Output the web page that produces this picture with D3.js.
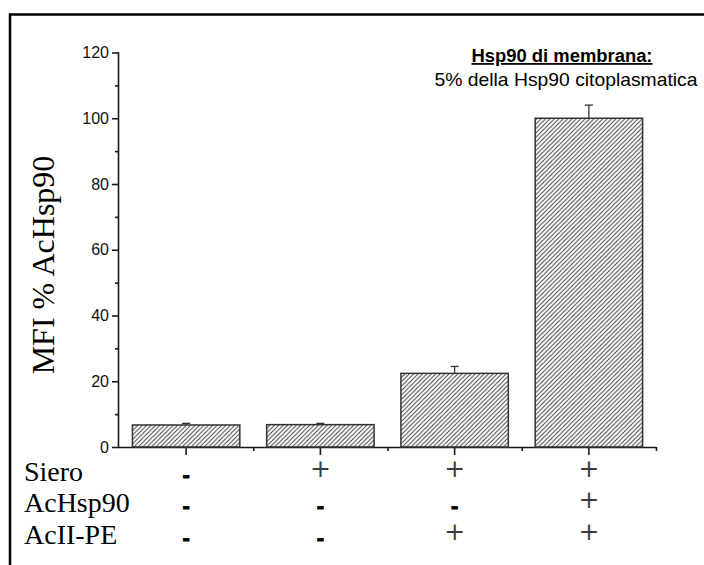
<!DOCTYPE html>
<html>
<head>
<meta charset="utf-8">
<script src="https://cdn.jsdelivr.net/npm/d3@7"></script>
<style>
  body { margin: 0; background: #fff; }
  svg { display: block; }
</style>
</head>
<body>
<svg id="chart" width="704" height="565"></svg>
<script>
// Conditions along the x axis and the measured MFI (% of AcHsp90)
const conditions = ["c1", "c2", "c3", "c4"];
const mfiValues = [6.7, 6.8, 22.4, 100];
const mfiErrors = [0.5, 0.4, 2.1, 4.0];
const yTicks = [0, 20, 40, 60, 80, 100, 120];
const yMinorTicks = [10, 30, 50, 70, 90, 110];

// Treatment table under the axis
const rowLabels = ["Siero", "AcHsp90", "AcII-PE"];
const siero = ["-", "+", "+", "+"];
const acHsp90 = ["-", "-", "-", "+"];
const acIIPE = ["-", "-", "+", "+"];
const tableRows = [siero, acHsp90, acIIPE];

const noteTitle = "Hsp90 di membrana:";
const noteText = "5% della Hsp90 citoplasmatica";

const svg = d3.select("#chart");

// outer frame
svg.append("rect")
  .attr("x", 10).attr("y", 14.5)
  .attr("width", 720).attr("height", 600)
  .attr("fill", "none").attr("stroke", "#000").attr("stroke-width", 2.5);

// hatch pattern for the bars
const defs = svg.append("defs");
const pat = defs.append("pattern")
  .attr("id", "hatch").attr("patternUnits", "userSpaceOnUse")
  .attr("width", 4.4).attr("height", 4.4);
pat.append("path")
  .attr("d", "M-1.1,1.1 L1.1,-1.1 M0,4.4 L4.4,0 M3.3,5.5 L5.5,3.3")
  .attr("stroke", "#333").attr("stroke-width", 0.9);

const x0 = 119, x1 = 656, yBase = 447, yTop = 52.5;

const x = d3.scaleBand().domain(conditions).range([x0, x1])
  .paddingInner(0.2).paddingOuter(0.1);
const xEdge = d3.scaleLinear().domain([0, conditions.length]).range([x0, x1]);
const y = d3.scaleLinear().domain([0, 120]).range([yBase, yTop]);

const axisColor = "#1a1a1a";

// y axis: major ticks with labels, minor ticks without
const gy = svg.append("g").attr("transform", `translate(${x0},0)`)
  .call(d3.axisLeft(y).tickValues(yTicks).tickSize(7).tickPadding(3).tickFormat(d3.format("d")));
const gyMinor = svg.append("g").attr("transform", `translate(${x0},0)`)
  .call(d3.axisLeft(y).tickValues(yMinorTicks).tickSize(4).tickFormat(""));
gyMinor.select(".domain").remove();

// x axis: major ticks at bar centres, minor ticks between bars
const gx = svg.append("g").attr("transform", `translate(0,${yBase})`)
  .call(d3.axisBottom(x).tickSize(8).tickFormat(""));
const gxMinor = svg.append("g").attr("transform", `translate(0,${yBase})`)
  .call(d3.axisBottom(xEdge).tickValues([1, 2, 3, 4]).tickSize(4).tickFormat(""));
gxMinor.select(".domain").remove();
gx.select(".domain").attr("d", `M${x0},0.5H${x1}`);
gy.select(".domain").attr("d", `M-0.5,${yTop}V${yBase}`);

[gy, gyMinor, gx, gxMinor].forEach(g => {
  g.selectAll(".domain, line").attr("stroke", axisColor).attr("stroke-width", 1.6);
});
gy.selectAll("text")
  .attr("font-family", "'Liberation Sans', Arial, sans-serif")
  .attr("font-size", 16).attr("fill", "#111");

// bars
const bars = svg.append("g");
bars.selectAll("rect").data(conditions).join("rect")
  .attr("x", d => x(d))
  .attr("y", (d, i) => y(mfiValues[i]))
  .attr("width", x.bandwidth())
  .attr("height", (d, i) => y(0) - y(mfiValues[i]))
  .attr("fill", "url(#hatch)")
  .attr("stroke", "#333").attr("stroke-width", 1.5);

// error bars (upper whisker only)
const err = svg.append("g").attr("stroke", "#333").attr("stroke-width", 1.3);
conditions.forEach((d, i) => {
  const cx = x(d) + x.bandwidth() / 2;
  err.append("line").attr("x1", cx).attr("x2", cx)
    .attr("y1", y(mfiValues[i])).attr("y2", y(mfiValues[i] + mfiErrors[i]));
  err.append("line").attr("x1", cx - 4).attr("x2", cx + 4)
    .attr("y1", y(mfiValues[i] + mfiErrors[i])).attr("y2", y(mfiValues[i] + mfiErrors[i]));
});

// y axis title
svg.append("text")
  .attr("transform", "translate(54,265) rotate(-90)")
  .attr("text-anchor", "middle")
  .attr("font-family", "'Liberation Serif', 'Times New Roman', serif")
  .attr("font-size", 32).attr("fill", "#000")
  .text("MFI % AcHsp90");

// annotation
svg.append("text")
  .attr("x", 562).attr("y", 62).attr("text-anchor", "middle")
  .attr("font-family", "'Liberation Sans', Arial, sans-serif")
  .attr("font-size", 18).attr("font-weight", "bold")
  .attr("text-decoration", "underline")
  .attr("textLength", 181).attr("lengthAdjust", "spacingAndGlyphs")
  .attr("fill", "#000").text(noteTitle);
svg.append("text")
  .attr("x", 566).attr("y", 86).attr("text-anchor", "middle")
  .attr("font-family", "'Liberation Sans', Arial, sans-serif")
  .attr("font-size", 18.5)
  .attr("textLength", 263).attr("lengthAdjust", "spacingAndGlyphs")
  .attr("fill", "#000").text(noteText);

// treatment table
const rowBaselines = [481, 512, 544];
const table = svg.append("g");
rowLabels.forEach((lab, r) => {
  table.append("text")
    .attr("x", 24).attr("y", rowBaselines[r])
    .attr("font-family", "'Liberation Serif', 'Times New Roman', serif")
    .attr("font-size", 28)
    .attr("fill", "#000").text(lab);
  tableRows[r].forEach((sym, i) => {
    const cx = x(conditions[i]) + x.bandwidth() / 2;
    if (sym === "+") {
      table.append("text")
        .attr("x", cx).attr("y", rowBaselines[r] - 4)
        .attr("text-anchor", "middle")
        .attr("font-family", "'DejaVu Serif', serif")
        .attr("font-size", 25).attr("font-weight", 200)
        .attr("fill", "#3a3a3a").text(sym);
    } else {
      table.append("text")
        .attr("x", cx).attr("y", rowBaselines[r] + 1)
        .attr("text-anchor", "middle")
        .attr("font-family", "'Liberation Sans', Arial, sans-serif")
        .attr("font-size", 22).attr("font-weight", "bold")
        .attr("stroke", "#000").attr("stroke-width", 0.9)
        .attr("fill", "#000").text(sym);
    }
  });
});
</script>
</body>
</html>
